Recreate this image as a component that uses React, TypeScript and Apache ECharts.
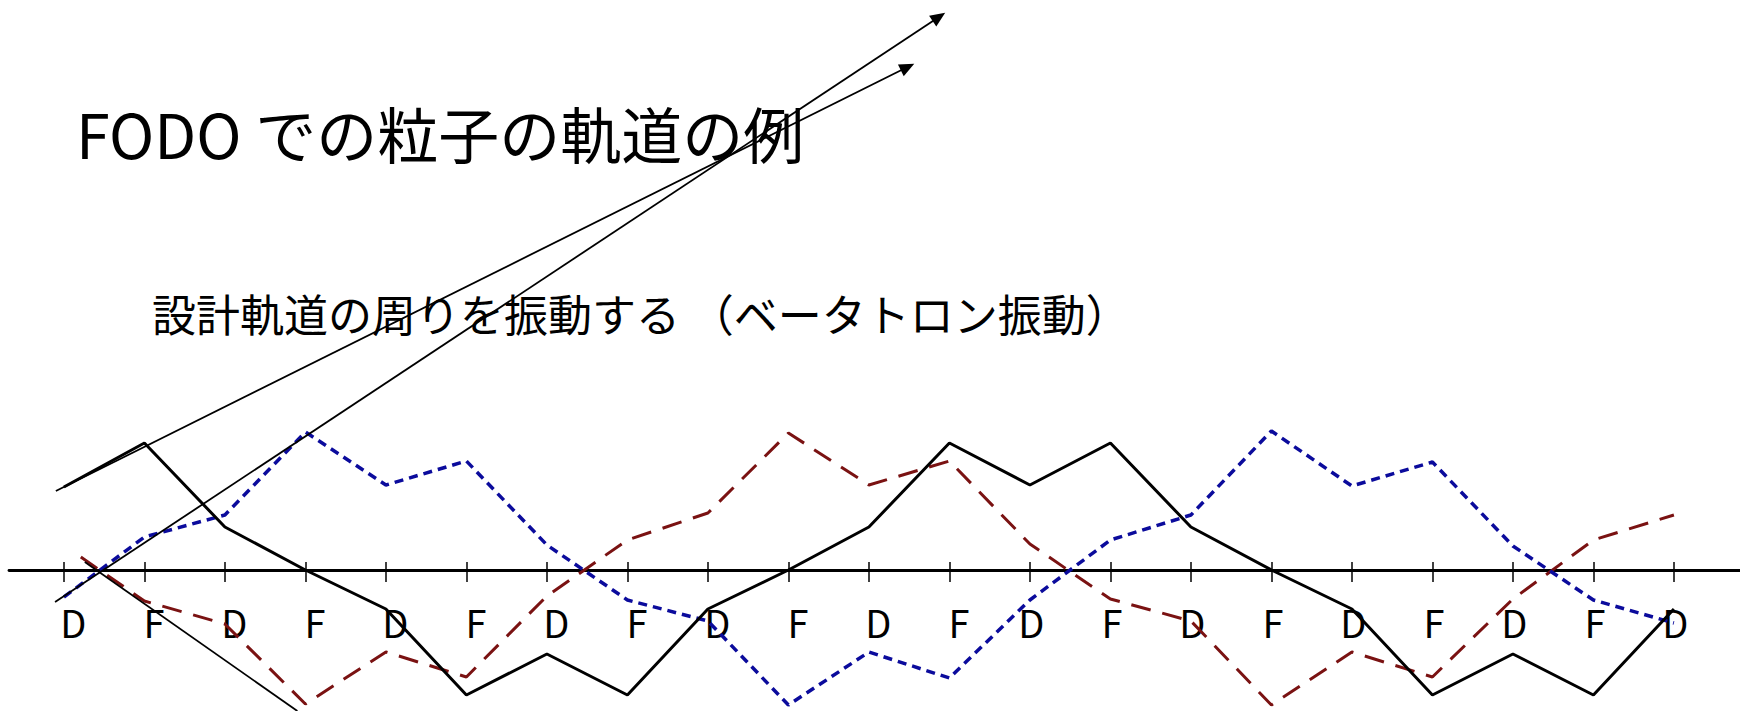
import React, { useEffect, useRef } from 'react';
import * as echarts from 'echarts';

// Lens sequence along the beam line (thin-lens FODO cell repeated)
const LENS_LABELS = ['D', 'F', 'D', 'F', 'D', 'F', 'D', 'F', 'D', 'F', 'D', 'F', 'D', 'F', 'D', 'F', 'D', 'F', 'D', 'F', 'D'];
const LENS_POSITIONS = [0, 1, 2, 3, 4, 5, 6, 7, 8, 9, 10, 11, 12, 13, 14, 15, 16, 17, 18, 19, 20];

// Transverse displacement of three particles at each lens (arbitrary units)
const ORBIT_BLACK = [8.3, 12.7, 4.3, 0, -3.9, -12.5, -8.4, -12.5, -3.9, 0, 4.3, 12.7, 8.5, 12.7, 4.3, 0, -3.9, -12.5, -8.4, -12.5, -3.9];
const ORBIT_BLUE = [-2.7, 3.3, 5.5, 13.8, 8.5, 10.9, 2.5, -3.0, -5.1, -13.5, -8.2, -10.8, -3.0, 3.0, 5.5, 13.9, 8.4, 10.8, 2.4, -3.0, -5.3];
const ORBIT_RED = [1.3, -3.1, -5.4, -13.4, -8.2, -10.7, -2.6, 3.0, 5.7, 13.7, 8.5, 10.9, 2.6, -2.9, -5.1, -13.5, -8.2, -10.7, -2.9, 3.0, 5.5];
const ORBIT_RED_START = 0.21;

// Straight lines a particle would follow without focusing
const TANGENT_BLACK = [[-0.1, 7.9], [10.48, 50.3]];
const TANGENT_BLUE = [[-0.11, -3.2], [10.87, 55.3]];
const TANGENT_RED = [[0.26, 0.8], [2.9, -14.1]];

const TITLE = 'FODO での粒子の軌道の例';
const SUBTITLE = '設計軌道の周りを振動する （ベータトロン振動）';

const CHART_WIDTH = 1740;
const CHART_HEIGHT = 711;
const X_MIN = -0.682;
const X_MAX = 20.821;
const Y_MIN = -14.1;
const Y_MAX = 57.0;
// the beam axis (zero displacement) sits this far above the bottom of the plot
const AXIS_OFFSET = -(0 - Y_MIN) / (Y_MAX - Y_MIN) * CHART_HEIGHT;

const FONT = '"Noto Sans CJK JP", "Noto Sans", sans-serif';

export default function App() {
  const ref = useRef<HTMLDivElement>(null);

  useEffect(() => {
    if (!ref.current) return;
    const chart = echarts.init(ref.current, undefined, { renderer: 'svg' });

    const seriesPoints = (values: number[], start?: number) =>
      values.map((v, i) => [i === 0 && start !== undefined ? start : LENS_POSITIONS[i], v]);

    const tangent = (pts: number[][], arrow: boolean) => [
      { coord: pts[0], symbol: 'none' },
      { coord: pts[1], symbol: arrow ? 'triangle' : 'none' },
    ];

    const option: any = {
      animation: false,
      backgroundColor: '#ffffff',
      title: [
        {
          text: TITLE,
          left: 71,
          top: 97,
          textStyle: { fontFamily: FONT, fontSize: 61, fontWeight: 'normal', color: '#000' },
        },
        {
          text: SUBTITLE,
          left: 147,
          top: 286,
          textStyle: { fontFamily: FONT, fontSize: 44, fontWeight: 'normal', color: '#000' },
        },
      ],
      grid: { left: 9, right: 0, top: 0, bottom: 0, containLabel: false, outerBoundsMode: 'none' },
      xAxis: [
        {
          type: 'value',
          position: 'bottom',
          offset: AXIS_OFFSET,
          min: X_MIN,
          max: X_MAX,
          axisLine: { onZero: false, lineStyle: { color: '#000', width: 2.8 } },
          axisTick: {
            show: true,
            customValues: LENS_POSITIONS,
            length: 12,
            lineStyle: { color: '#000', width: 1.5 },
          },
          axisLabel: {
            show: true,
            customValues: LENS_POSITIONS,
            margin: 32,
            formatter: (value: number) => {
              const i = Math.round(value);
              const name = LENS_LABELS[i] ?? '';
              return i < 12 ? `{a|${name}}` : `{b|${name}}`;
            },
            rich: {
              a: { fontFamily: FONT, fontSize: 38, color: '#000', padding: [0, 0, 0, 19] },
              b: { fontFamily: FONT, fontSize: 38, color: '#000', padding: [0, 0, 0, 3] },
            },
          },
          splitLine: { show: false },
        },
        {
          type: 'value',
          position: 'bottom',
          offset: AXIS_OFFSET,
          min: X_MIN,
          max: X_MAX,
          axisLine: { show: false, onZero: false },
          axisTick: {
            show: true,
            inside: true,
            customValues: LENS_POSITIONS,
            length: 8,
            lineStyle: { color: '#000', width: 1.5 },
          },
          axisLabel: { show: false },
          splitLine: { show: false },
        },
      ],
      yAxis: {
        type: 'value',
        min: Y_MIN,
        max: Y_MAX,
        show: false,
        axisLine: { onZero: false },
        splitLine: { show: false },
      },
      series: [
        {
          name: 'red',
          type: 'line',
          data: seriesPoints(ORBIT_RED, ORBIT_RED_START),
          symbol: 'none',
          lineStyle: { color: '#7a1212', width: 3, type: [20, 12] },
          z: 3,
        },
        {
          name: 'blue',
          type: 'line',
          data: seriesPoints(ORBIT_BLUE),
          symbol: 'none',
          lineStyle: { color: '#0b0b9c', width: 3.5, type: [9, 6] },
          z: 4,
        },
        {
          name: 'black',
          type: 'line',
          data: seriesPoints(ORBIT_BLACK),
          symbol: 'none',
          lineStyle: { color: '#000', width: 3 },
          z: 5,
          markLine: {
            silent: true,
            symbolSize: [13, 15],
            label: { show: false },
            emphasis: { disabled: true },
            lineStyle: { color: '#000', width: 1.8, type: 'solid' },
            itemStyle: { color: '#000' },
            data: [
              tangent(TANGENT_BLACK, true),
              tangent(TANGENT_BLUE, true),
              tangent(TANGENT_RED, false),
            ],
          },
        },
        {
          // empty series keeps the tick-only axis bound to the grid
          name: 'frame',
          type: 'line',
          xAxisIndex: 1,
          data: [],
          silent: true,
        },
      ],
    };

    chart.setOption(option);
    return () => chart.dispose();
  }, []);

  return (
    <div
      ref={ref}
      style={{ position: 'absolute', left: 0, top: 0, width: CHART_WIDTH, height: CHART_HEIGHT, background: '#fff' }}
    />
  );
}
